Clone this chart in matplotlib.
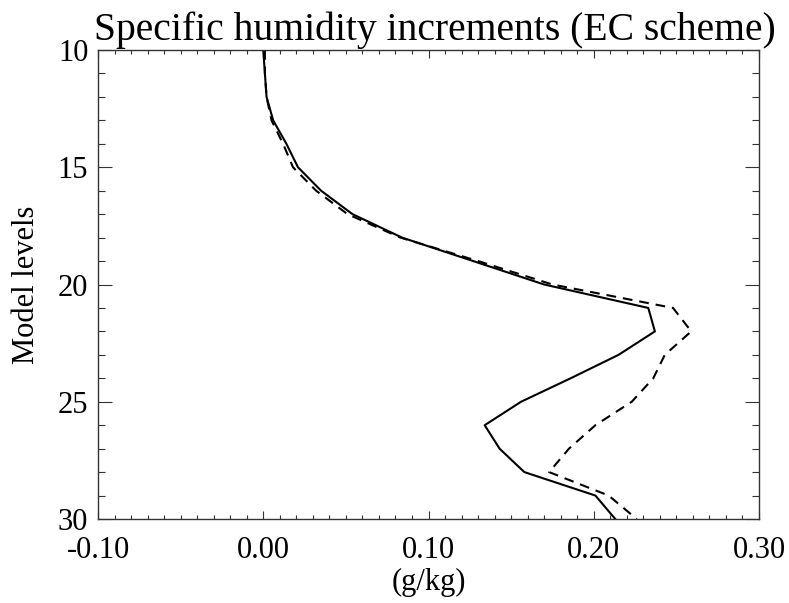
import matplotlib
matplotlib.use("Agg")
import matplotlib.pyplot as plt
from matplotlib.ticker import MultipleLocator

plt.rcParams['font.family'] = ['Liberation Serif', 'DejaVu Serif']
plt.rcParams['lines.scale_dashes'] = False

# model levels 10..30 (top to bottom)
levels = list(range(10, 31))

# increments in g/kg
q_solid = [0.000, 0.001, 0.002, 0.006, 0.014, 0.021, 0.035, 0.054, 0.084, 0.127, 0.170,
           0.233, 0.237, 0.215, 0.186, 0.156, 0.134, 0.143, 0.158, 0.201, 0.213]
q_dashed = [0.001, 0.001, 0.002, 0.005, 0.012, 0.018, 0.032, 0.051, 0.083, 0.130, 0.175,
            0.248, 0.259, 0.243, 0.236, 0.223, 0.201, 0.185, 0.173, 0.209, 0.226]

xticks = [-0.10, 0.00, 0.10, 0.20, 0.30]
xticklabels = ['-0.10', '0.00', '0.10', '0.20', '0.30']
yticks = [10, 15, 20, 25, 30]

fig = plt.figure(figsize=(7.89, 6.03), dpi=100)
ax = fig.add_axes([98/789, 1-519/603, (759-98)/789, (519-50)/603])

ax.plot(q_solid, levels, color='black', lw=1.5)
ax.plot(q_dashed, levels, color='black', lw=1.5, dashes=(7, 5))

ax.set_xlim(-0.10, 0.30)
ax.set_ylim(30, 10)
ax.set_xticks(xticks)
ax.set_xticklabels(xticklabels)
ax.set_yticks(yticks)
ax.xaxis.set_minor_locator(MultipleLocator(0.01))
ax.yaxis.set_minor_locator(MultipleLocator(1))

ax.tick_params(axis='both', which='both', direction='in', top=True, right=True,
               labelsize=22, width=0.8, color='#333333')
ax.tick_params(axis='x', which='major', length=6, pad=12)
ax.tick_params(axis='x', which='minor', length=3)
ax.tick_params(axis='y', which='major', length=10, pad=7)
ax.tick_params(axis='y', which='minor', length=5)
for s in ax.spines.values():
    s.set_linewidth(1.0)
    s.set_color('#333333')

ax.set_title('Specific humidity increments (EC scheme)', fontsize=28.5, pad=7, x=0.51)
ax.set_xlabel('(g/kg)', fontsize=22, labelpad=2)
ax.set_ylabel('Model levels', fontsize=22, labelpad=12)

fig.savefig('out.png', dpi=100)
